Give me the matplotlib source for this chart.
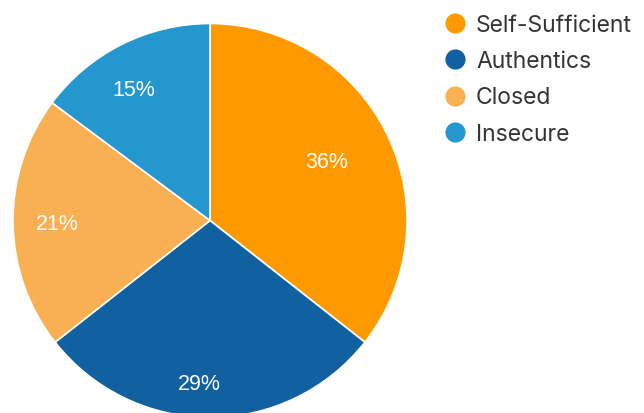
import matplotlib
matplotlib.use("Agg")
import matplotlib.pyplot as plt
import numpy as np

categories = ["Self-Sufficient", "Authentics", "Closed", "Insecure"]
values = [35.6, 28.8, 20.8, 14.8]
labels = ["36%", "29%", "21%", "15%"]
colors = ["#FF9900", "#11609F", "#F8B052", "#2497CE"]

W, H = 644, 414
fig = plt.figure(figsize=(W / 100, H / 100), dpi=100)
ax = fig.add_axes([0, 0, 1, 1])
ax.set_xlim(0, W)
ax.set_ylim(0, H)
ax.set_aspect("equal")
ax.axis("off")

cx, cy, R = 210, H - 221.5, 197
wedges, _ = ax.pie(values, colors=colors, startangle=90, counterclock=False,
                   center=(cx, cy), radius=R,
                   wedgeprops=dict(edgecolor="white", linewidth=1.2))
ax.set_xlim(0, W)
ax.set_ylim(0, H)

# label placement: radial factor and small angular shift (degrees, ccw)
label_r = [0.67, 0.82, 0.775, 0.777]
label_shift = [1.6, -3.7, 0.0, 3.4]
for w, lab, f, s in zip(wedges, labels, label_r, label_shift):
    ang = np.deg2rad((w.theta1 + w.theta2) / 2 + s)
    x = cx + f * R * np.cos(ang)
    y = cy + f * R * np.sin(ang) - 1.5
    ax.text(x, y, lab, ha="center", va="center", color="white",
            fontsize=15.5, family=["Liberation Sans", "DejaVu Sans"])

for i, (cat, col) in enumerate(zip(categories, colors)):
    y = H - (23.5 + i * 36.5)
    ax.scatter([455], [y], s=210, color=col, linewidths=0, clip_on=False)
    ax.text(476, y - 2, cat, ha="left", va="center", color="#333333",
            fontsize=16.5, family=["Inter", "DejaVu Sans"])

fig.savefig("out.png", dpi=100)
